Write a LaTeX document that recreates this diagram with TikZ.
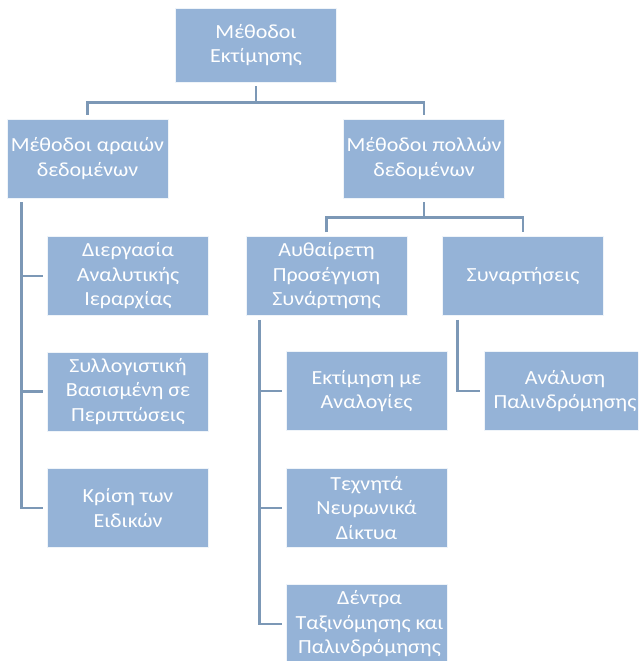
\documentclass[tikz,border=0pt]{standalone}
\usepackage{fontspec}
\setmainfont{Carlito}[FakeStretch=1.1]
\definecolor{boxblue}{RGB}{149,179,215}
\definecolor{connblue}{RGB}{124,152,182}
\tikzset{
  box/.style={rectangle, fill=boxblue, draw=white!85!boxblue, line width=0.6pt,
    minimum width=161pt, minimum height=79pt, inner sep=0pt},
  txt/.style={inner sep=0pt, text=white, align=center,
    font=\fontsize{20}{24.5}\selectfont},
  conn/.style={draw=connblue, line width=2.6pt}
}
\begin{document}
\begin{tikzpicture}[x=1pt,y=-1pt]
\useasboundingbox (0,0) rectangle (638,661);
\fill[white] (0,0) rectangle (638,661);
\clip (0,0) rectangle (638,661);

\node[box, minimum height=74pt] (top) at (256,45) {};
\node[txt] (topt) at (top) {Μέθοδοι\\Εκτίμησης};
\node[box] (L) at (87.5,158.5) {};
\node[txt] (Lt) at (L) {Μέθοδοι αραιών\\δεδομένων};
\node[box] (R) at (424,158.5) {};
\node[txt] (Rt) at (R) {Μέθοδοι πολλών\\δεδομένων};

\node[box] (A1) at (128,276) {};
\node[txt] (A1t) at (A1) {Διεργασία\\Αναλυτικής\\Ιεραρχίας};
\node[box] (A2) at (128,391.5) {};
\node[txt] (A2t) at (A2) {Συλλογιστική\\Βασισμένη σε\\Περιπτώσεις};
\node[box] (A3) at (128,508) {};
\node[txt] (A3t) at (A3) {Κρίση των\\Ειδικών};

\node[box] (B) at (326.5,276) {};
\node[txt] (Bt) at (B) {Αυθαίρετη\\Προσέγγιση\\Συνάρτησης};
\node[box] (C) at (523,276) {};
\node[txt] (Ct) at (C) {Συναρτήσεις};

\node[box] (B1) at (366.5,391) {};
\node[txt] (B1t) at (B1) {Εκτίμηση με\\Αναλογίες};
\node[box] (B2) at (366.5,508) {};
\node[txt] (B2t) at (B2) {Τεχνητά\\Νευρωνικά\\Δίκτυα};
\node[box] (B3) at (366.5,624) {};
\node[txt] (B3t) at ([xshift=3pt]B3) {Δέντρα\\Ταξινόμησης και\\Παλινδρόμησης};

\node[box] (C1) at (565,391) {};
\node[txt] (C1t) at (C1) {Ανάλυση\\Παλινδρόμησης};

% top level
\draw[conn] ([yshift=-4pt]top.south) -- ++(0,16) coordinate (tj);
\draw[conn] ([yshift=4pt]L.north) |- (tj) -| ([yshift=4pt]R.north);

% many data split
\draw[conn] ([yshift=-4pt]R.south) -- ++(0,15) coordinate (rj);
\draw[conn] ([yshift=4pt]B.north) |- (rj) -| ([yshift=4pt]C.north);

% left branch
\draw[conn] ([xshift=15pt,yshift=-4pt]L.south west) coordinate (lv) |- ([xshift=-4pt]A3.west);
\draw[conn] (lv |- A1.west) -- ([xshift=-4pt]A1.west);
\draw[conn] (lv |- A2.west) -- ([xshift=-4pt]A2.west);

% B branch
\draw[conn] ([xshift=14pt,yshift=-4pt]B.south west) coordinate (bv) |- ([xshift=-4pt]B3.west);
\draw[conn] (bv |- B1.west) -- ([xshift=-4pt]B1.west);
\draw[conn] (bv |- B2.west) -- ([xshift=-4pt]B2.west);

% C branch
\draw[conn] ([xshift=15pt,yshift=-4pt]C.south west) |- ([xshift=-4pt]C1.west);
\end{tikzpicture}
\end{document}
